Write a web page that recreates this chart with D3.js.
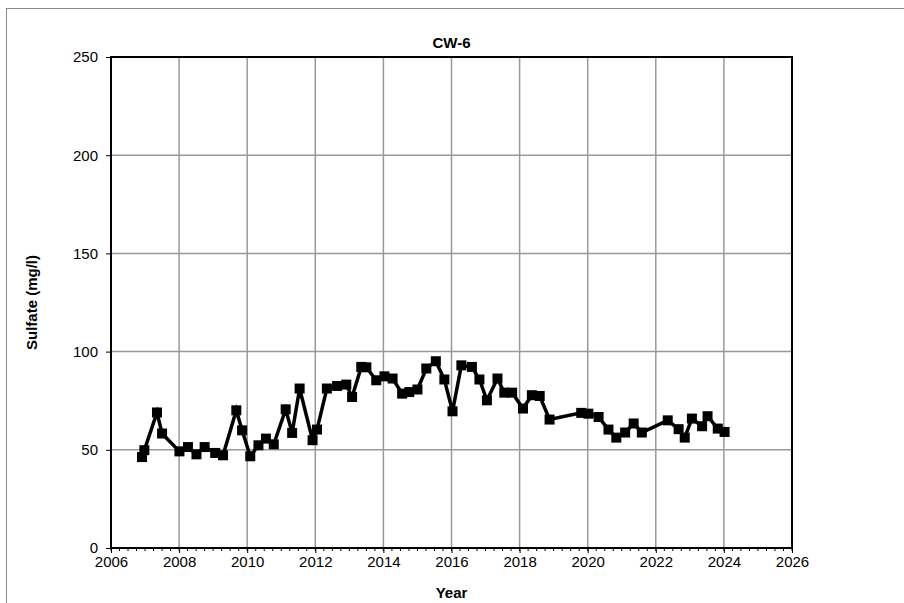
<!DOCTYPE html>
<html>
<head>
<meta charset="utf-8">
<script src="https://cdn.jsdelivr.net/npm/d3@7"></script>
<style>
  body { margin: 0; background: #fff; }
  text { font-family: Arial, "Liberation Sans", sans-serif; }
</style>
</head>
<body>
<div id="chart"></div>
<script>
// sample dates as decimal years
var years = [2006.91, 2006.98, 2007.35, 2007.50, 2008.01, 2008.26, 2008.51, 2008.75, 2009.06, 2009.29,
  2009.68, 2009.85, 2010.09, 2010.33, 2010.55, 2010.78, 2011.13, 2011.32, 2011.54, 2011.92,
  2012.05, 2012.34, 2012.64, 2012.91, 2013.08, 2013.35, 2013.50, 2013.79, 2014.03, 2014.27,
  2014.55, 2014.76, 2015.00, 2015.26, 2015.54, 2015.79, 2016.03, 2016.29, 2016.60, 2016.82,
  2017.04, 2017.35, 2017.55, 2017.78, 2018.10, 2018.36, 2018.59, 2018.88, 2019.81, 2020.02,
  2020.32, 2020.61, 2020.84, 2021.10, 2021.35, 2021.59, 2022.35, 2022.67, 2022.85, 2023.06,
  2023.36, 2023.52, 2023.82, 2024.02];
var sulfate = [46.3, 49.8, 69.0, 58.3, 49.2, 51.4, 47.7, 51.4, 48.4, 47.2,
  70.1, 59.9, 46.7, 52.3, 55.7, 52.8, 70.6, 58.6, 81.2, 54.9,
  60.3, 81.2, 82.5, 83.2, 76.9, 92.2, 92.0, 85.4, 87.4, 86.3,
  78.6, 79.4, 80.7, 91.4, 95.1, 85.8, 69.6, 93.0, 92.2, 85.8,
  75.2, 86.3, 79.1, 79.1, 71.0, 77.8, 77.4, 65.4, 68.8, 68.4,
  66.7, 60.3, 56.2, 58.8, 63.4, 58.8, 65.0, 60.5, 56.2, 65.9,
  62.0, 67.1, 60.8, 59.1];
var yTicks = [0, 50, 100, 150, 200, 250];
var xTicks = [2006, 2008, 2010, 2012, 2014, 2016, 2018, 2020, 2022, 2024, 2026];

var W = 904, H = 603;
var margin = { top: 57, right: 112, bottom: 55, left: 111 },
    width = W - margin.left - margin.right,
    height = H - margin.top - margin.bottom;

var data = years.map(function(y, i){ return { year: y, value: sulfate[i] }; });

var svg = d3.select('#chart').append('svg')
    .attr('width', W)
    .attr('height', H);

// outer frame
svg.append('rect')
    .attr('x', 6.5).attr('y', 8.5)
    .attr('width', 1000).attr('height', 1000)
    .attr('fill', 'none')
    .attr('stroke', '#8c8c8c')
    .attr('stroke-width', 1);

var g = svg.append('g').attr('transform', 'translate(' + margin.left + ',' + margin.top + ')');

var x = d3.scaleLinear().domain([2006, 2026]).range([0, width]);
var y = d3.scaleLinear().domain([0, 250]).range([height, 0]);

// gridlines
g.append('g').selectAll('line.vg')
    .data(xTicks.slice(1, -1))
    .enter().append('line')
    .attr('x1', function(d){ return x(d); }).attr('x2', function(d){ return x(d); })
    .attr('y1', 0).attr('y2', height)
    .attr('stroke', '#999').attr('stroke-width', 1.5);
g.append('g').selectAll('line.hg')
    .data(yTicks.slice(1, -1))
    .enter().append('line')
    .attr('x1', 0).attr('x2', width)
    .attr('y1', function(d){ return y(d); }).attr('y2', function(d){ return y(d); })
    .attr('stroke', '#999').attr('stroke-width', 1.5);

// minor x ticks every quarter year
var minor = d3.range(2006, 2026.001, 0.25);
g.append('g').selectAll('line')
    .data(minor)
    .enter().append('line')
    .attr('x1', function(d){ return x(d); }).attr('x2', function(d){ return x(d); })
    .attr('y1', height).attr('y2', height + 3)
    .attr('stroke', '#000').attr('stroke-width', 1);

// axes
var xAxis = g.append('g')
    .attr('transform', 'translate(0,' + height + ')')
    .call(d3.axisBottom(x).tickValues(xTicks).tickFormat(d3.format('d')).tickSize(5).tickPadding(3));
var yAxis = g.append('g')
    .call(d3.axisLeft(y).tickValues(yTicks).tickSize(5).tickPadding(8));
[xAxis, yAxis].forEach(function(a){
    a.select('.domain').remove();
    a.selectAll('line').attr('stroke', '#000').attr('stroke-width', 1);
    a.selectAll('text').style('font-size', '15px').attr('fill', '#000');
});

// plot border
g.append('rect')
    .attr('x', 0).attr('y', 0)
    .attr('width', width).attr('height', height)
    .attr('fill', 'none')
    .attr('stroke', '#000').attr('stroke-width', 2);

// series
var line = d3.line()
    .x(function(d){ return x(d.year); })
    .y(function(d){ return y(d.value); });
g.append('path')
    .datum(data)
    .attr('d', line)
    .attr('fill', 'none')
    .attr('stroke', '#000')
    .attr('stroke-width', 3.5)
    .attr('stroke-linejoin', 'miter');

g.selectAll('rect.pt')
    .data(data)
    .enter().append('rect')
    .attr('class', 'pt')
    .attr('x', function(d){ return x(d.year) - 5; })
    .attr('y', function(d){ return y(d.value) - 5; })
    .attr('width', 10).attr('height', 10)
    .attr('fill', '#000');

// titles
svg.append('text')
    .attr('x', margin.left + width / 2).attr('y', 48)
    .attr('text-anchor', 'middle')
    .style('font-size', '15px').style('font-weight', 'bold')
    .text('CW-6');
svg.append('text')
    .attr('x', margin.left + width / 2).attr('y', 598)
    .attr('text-anchor', 'middle')
    .style('font-size', '15px').style('font-weight', 'bold')
    .text('Year');
svg.append('text')
    .attr('transform', 'translate(37,' + (margin.top + height / 2) + ') rotate(-90)')
    .attr('text-anchor', 'middle')
    .style('font-size', '15px').style('font-weight', 'bold')
    .text('Sulfate (mg/l)');
</script>
</body>
</html>
